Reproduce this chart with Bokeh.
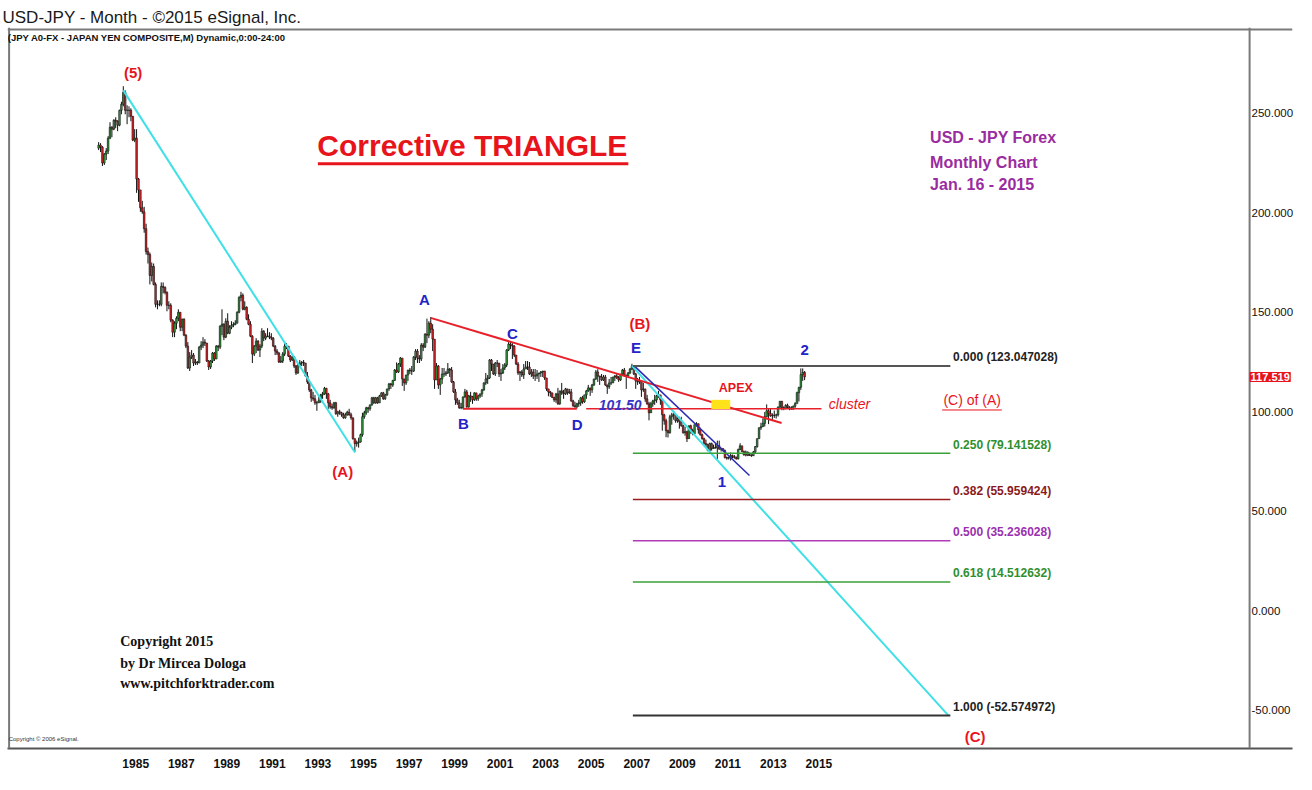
from bokeh.plotting import figure
from bokeh.models import Label, FixedTicker, Range1d, PrintfTickFormatter, ColumnDataSource, Span
from bokeh.embed import file_html
from bokeh.resources import INLINE

# ---------------- data (monthly USD-JPY, Jan 1984 .. Jan 2015) ----------------
first_year = 1984
first_open = 232.5
closes = [
    234.0, 233.0, 225.0, 229.5, 231.0, 237.5, 243.0, 242.0, 246.5, 246.0, 244.0, 251.5,  # 1984
    254.5, 260.5, 251.5, 251.5, 251.5, 248.5, 236.5, 237.5, 217.0, 211.5, 202.5, 200.5,  # 1985
    192.0, 180.5, 179.0, 168.5, 173.0, 164.0, 154.0, 154.0, 154.0, 163.0, 162.5, 160.0,  # 1986
    153.5, 153.5, 146.0, 140.0, 144.5, 147.0, 150.0, 142.5, 146.5, 138.5, 133.0, 122.0,  # 1987
    127.5, 128.5, 124.5, 125.0, 124.5, 132.5, 133.5, 135.0, 134.5, 125.5, 122.5, 125.5,  # 1988
    129.5, 126.5, 133.0, 132.5, 143.0, 144.0, 137.5, 145.5, 139.5, 142.5, 143.5, 143.8,  # 1989
    144.5, 150.0, 157.5, 158.5, 151.5, 152.5, 146.5, 144.0, 138.0, 129.0, 133.0, 135.5,  # 1990
    131.0, 133.0, 140.5, 137.0, 138.0, 138.0, 137.5, 137.0, 133.0, 130.5, 129.5, 125.0,  # 1991
    125.5, 129.0, 133.0, 133.0, 128.0, 126.0, 127.5, 123.0, 119.5, 123.5, 124.5, 124.8,  # 1992
    124.5, 118.0, 115.0, 111.0, 107.0, 106.5, 104.5, 104.5, 105.5, 108.5, 109.0, 111.8,  # 1993
    109.0, 104.5, 102.5, 102.0, 104.5, 99.0, 100.0, 99.5, 98.5, 97.0, 98.5, 99.8,        # 1994
    98.5, 97.0, 86.5, 84.0, 84.5, 84.8, 88.5, 97.5, 99.5, 102.0, 101.5, 103.5,           # 1995
    107.0, 104.5, 107.0, 104.5, 108.0, 109.5, 106.5, 108.5, 111.5, 114.0, 113.5, 115.8,  # 1996
    121.0, 120.0, 124.0, 127.0, 116.5, 114.5, 118.5, 121.0, 120.5, 120.5, 127.5, 130.5,  # 1997
    127.0, 126.5, 133.5, 132.5, 139.0, 138.5, 144.5, 141.5, 136.5, 116.0, 123.0, 113.5,  # 1998
    116.5, 119.0, 119.0, 119.5, 121.5, 121.0, 115.0, 110.0, 106.0, 104.5, 102.0, 102.2,  # 1999
    107.5, 110.0, 102.5, 108.0, 107.5, 106.0, 109.5, 106.5, 108.0, 109.0, 111.0, 114.5,  # 2000
    116.5, 117.0, 126.0, 124.0, 119.0, 124.5, 124.5, 119.0, 119.5, 122.0, 123.5, 131.0,  # 2001
    134.0, 133.5, 133.0, 128.5, 124.0, 119.5, 120.0, 118.5, 121.5, 122.5, 122.5, 119.0,  # 2002
    120.0, 118.0, 118.0, 119.0, 119.5, 120.0, 120.5, 117.0, 111.5, 110.0, 109.5, 107.2,  # 2003
    106.0, 109.0, 104.0, 110.5, 109.5, 109.0, 111.5, 109.5, 110.0, 105.5, 103.0, 102.5,  # 2004
    104.0, 104.5, 107.0, 105.0, 108.5, 110.5, 112.0, 111.0, 113.5, 116.5, 120.0, 118.0,  # 2005
    117.5, 116.0, 117.5, 113.5, 112.5, 114.5, 114.5, 117.5, 118.0, 117.0, 116.0, 119.0,  # 2006
    121.0, 118.5, 118.0, 119.5, 121.5, 123.0, 119.0, 115.5, 115.0, 115.5, 111.0, 111.5,  # 2007
    106.5, 104.0, 99.5, 104.0, 105.5, 106.0, 108.0, 108.5, 106.0, 98.5, 95.5, 90.5,      # 2008
    89.5, 97.5, 98.5, 98.5, 95.5, 96.5, 95.0, 93.0, 89.5, 90.0, 86.5, 93.0,              # 2009
    90.5, 89.0, 93.5, 94.0, 91.0, 88.5, 86.5, 84.0, 83.5, 80.5, 84.0, 81.5,              # 2010
    82.0, 81.8, 83.0, 81.2, 81.5, 80.5, 77.0, 76.7, 77.0, 78.0, 77.5, 77.0,              # 2011
    76.3, 81.0, 82.9, 80.0, 78.3, 79.8, 78.0, 78.4, 77.9, 79.8, 82.5, 86.5,              # 2012
    92.0, 92.5, 94.2, 97.5, 100.5, 99.2, 97.9, 98.2, 98.3, 98.4, 102.4, 105.3,           # 2013
    102.0, 101.8, 103.2, 102.3, 101.8, 101.3, 102.8, 104.1, 109.6, 112.3, 118.7, 119.8,  # 2014
    117.519,                                                                             # 2015
]
highs = [
    235.5, 235.0, 233.5, 230.0, 232.5, 238.5, 245.5, 243.5, 247.0, 248.0, 246.5, 251.8,
    255.8, 263.6, 261.5, 254.0, 253.5, 252.5, 248.5, 242.0, 242.0, 217.5, 211.0, 206.0,
    203.0, 194.5, 182.5, 180.0, 175.0, 174.5, 165.0, 156.0, 156.0, 165.0, 165.0, 163.0,
    160.5, 155.5, 154.5, 146.5, 145.5, 148.0, 151.5, 150.0, 146.8, 147.0, 139.0, 135.0,
    130.0, 131.0, 129.5, 126.5, 125.5, 133.0, 135.5, 137.5, 136.5, 134.5, 126.0, 126.0,
    130.0, 130.0, 133.5, 133.5, 143.5, 151.5, 144.5, 147.0, 149.5, 143.5, 145.5, 145.0,
    146.0, 150.5, 158.0, 160.3, 159.5, 155.5, 153.0, 149.0, 145.5, 138.5, 133.5, 137.0,
    136.0, 134.0, 142.0, 141.0, 139.5, 142.0, 140.0, 139.5, 137.5, 133.5, 131.5, 130.0,
    128.0, 130.0, 134.5, 134.5, 133.0, 128.5, 128.0, 128.0, 123.5, 124.0, 126.0, 125.5,
    126.0, 124.5, 120.0, 116.0, 111.5, 110.0, 108.5, 105.5, 107.5, 109.0, 110.0, 112.5,
    112.0, 109.5, 106.0, 104.0, 105.0, 105.0, 100.5, 101.0, 100.0, 99.5, 99.5, 100.5,
    101.5, 99.5, 97.0, 86.5, 85.5, 87.0, 89.0, 99.5, 100.5, 102.5, 102.5, 103.5,
    107.5, 107.5, 107.5, 107.5, 108.5, 109.8, 110.0, 109.0, 111.5, 114.5, 114.5, 116.0,
    121.5, 124.8, 124.5, 127.5, 126.5, 116.5, 118.5, 121.0, 122.0, 123.0, 128.0, 131.5,
    131.5, 128.5, 134.5, 134.5, 139.5, 146.8, 145.5, 147.6, 144.0, 136.5, 124.5, 123.5,
    117.0, 122.0, 122.0, 120.5, 124.5, 122.0, 122.5, 115.5, 111.5, 107.0, 106.0, 104.5,
    107.5, 111.5, 111.0, 108.5, 110.0, 108.0, 109.8, 109.5, 108.5, 109.0, 111.5, 114.8,
    119.5, 118.5, 126.5, 126.5, 124.0, 125.0, 126.0, 124.5, 121.5, 124.0, 124.5, 131.5,
    135.0, 135.2, 134.5, 133.5, 128.5, 125.0, 120.5, 121.0, 124.0, 125.5, 125.5, 125.0,
    121.5, 121.5, 121.5, 121.0, 119.5, 120.5, 120.5, 120.0, 117.0, 111.5, 110.5, 109.5,
    107.5, 109.5, 112.0, 110.5, 114.5, 111.0, 112.0, 111.5, 111.5, 111.5, 106.0, 105.0,
    104.5, 106.0, 107.5, 108.0, 108.5, 111.0, 113.5, 112.0, 114.0, 116.5, 121.0, 121.4,
    118.0, 119.0, 118.5, 118.5, 113.5, 116.5, 117.5, 117.5, 118.5, 119.5, 118.0, 119.0,
    121.5, 122.0, 118.5, 120.0, 122.0, 124.1, 123.5, 119.5, 117.0, 117.5, 115.5, 114.5,
    109.5, 108.5, 105.0, 105.0, 106.0, 108.5, 108.5, 110.5, 108.0, 106.5, 99.0, 96.5,
    91.0, 98.5, 99.5, 100.5, 99.0, 98.0, 97.5, 97.5, 93.5, 92.5, 90.5, 93.0,
    93.5, 91.5, 93.5, 94.8, 94.0, 92.0, 89.0, 87.0, 86.0, 84.0, 84.5, 84.5,
    83.5, 84.0, 85.5, 85.5, 82.0, 81.5, 81.0, 77.5, 77.5, 79.5, 78.5, 78.2,
    77.5, 81.5, 84.2, 82.5, 80.5, 80.5, 80.0, 79.5, 78.5, 80.3, 82.8, 86.5,
    92.0, 94.5, 96.7, 99.9, 103.7, 101.4, 101.5, 99.2, 100.6, 99.0, 102.6, 105.4,
    105.4, 102.7, 103.8, 104.1, 102.8, 102.8, 103.1, 104.8, 110.1, 112.5, 121.8, 121.8,
    120.5,
]
lows = [
    231.5, 230.5, 223.5, 224.0, 226.5, 229.5, 237.0, 238.0, 241.5, 242.5, 241.0, 243.5,
    249.5, 253.5, 249.5, 244.5, 248.0, 246.0, 236.0, 235.5, 210.0, 205.5, 200.5, 199.5,
    190.0, 179.0, 174.5, 164.0, 165.5, 163.5, 152.5, 151.5, 153.0, 153.0, 159.5, 159.0,
    150.5, 151.5, 145.0, 137.5, 137.5, 141.5, 145.5, 140.5, 140.5, 138.0, 132.0, 121.5,
    120.5, 126.5, 123.0, 123.5, 123.5, 124.5, 131.0, 132.0, 133.0, 125.0, 121.0, 121.5,
    124.5, 125.5, 127.0, 130.5, 131.5, 138.5, 136.0, 137.0, 139.0, 139.0, 141.5, 142.5,
    143.5, 144.5, 149.5, 155.5, 151.0, 151.0, 146.0, 143.5, 137.5, 124.5, 128.0, 129.5,
    130.5, 127.5, 132.0, 135.5, 136.0, 137.5, 136.5, 136.0, 132.5, 128.5, 128.5, 124.5,
    124.5, 124.5, 128.0, 131.5, 127.5, 125.0, 125.5, 122.0, 118.5, 119.0, 122.5, 123.0,
    123.0, 117.5, 114.0, 110.0, 105.0, 105.5, 103.5, 100.5, 104.5, 104.5, 106.5, 108.5,
    106.5, 101.5, 101.5, 101.0, 101.5, 98.5, 97.5, 98.5, 97.5, 96.5, 96.5, 98.0,
    98.0, 96.0, 86.0, 79.8, 82.5, 82.0, 84.5, 87.5, 96.5, 98.5, 99.5, 100.5,
    103.0, 104.0, 104.0, 104.0, 104.5, 107.5, 106.0, 106.0, 108.0, 110.5, 111.5, 112.5,
    115.5, 119.5, 119.5, 122.5, 113.0, 110.5, 113.5, 115.5, 119.0, 118.5, 120.0, 126.0,
    124.5, 124.5, 125.5, 130.5, 132.0, 134.5, 137.0, 139.5, 130.5, 111.5, 116.0, 111.5,
    108.5, 114.0, 117.5, 118.0, 119.0, 117.5, 114.5, 109.5, 103.5, 103.5, 101.5, 101.3,
    101.3, 107.0, 102.0, 102.0, 105.0, 104.0, 105.5, 105.5, 105.5, 107.0, 107.5, 110.5,
    113.5, 114.0, 116.5, 120.5, 118.5, 118.0, 122.5, 117.5, 115.5, 119.0, 121.0, 122.5,
    130.5, 131.5, 126.5, 127.5, 123.5, 118.5, 115.5, 117.5, 116.5, 121.5, 121.0, 118.5,
    117.5, 116.5, 115.5, 116.5, 115.0, 117.5, 117.5, 116.0, 110.5, 107.8, 107.5, 107.0,
    105.0, 104.5, 103.5, 103.5, 108.5, 106.5, 108.5, 108.5, 109.0, 105.0, 102.5, 102.0,
    101.7, 102.5, 103.0, 104.0, 104.5, 106.5, 110.0, 108.0, 109.5, 113.0, 116.0, 115.0,
    113.5, 115.5, 115.5, 113.0, 109.0, 111.5, 113.5, 114.5, 115.5, 116.5, 115.0, 115.5,
    118.5, 117.5, 111.5, 117.5, 119.0, 121.0, 118.5, 111.5, 113.5, 114.0, 107.5, 110.0,
    105.0, 103.5, 95.7, 99.5, 102.5, 103.5, 104.5, 107.0, 103.5, 90.5, 93.5, 87.2,
    87.1, 89.0, 93.5, 96.0, 94.5, 94.5, 91.5, 92.5, 89.0, 88.0, 84.8, 86.5,
    89.0, 88.2, 88.5, 92.5, 89.0, 88.0, 86.0, 83.5, 82.0, 80.2, 80.5, 80.5,
    81.5, 81.5, 76.3, 81.0, 80.0, 80.0, 76.5, 75.9, 76.0, 75.5, 76.6, 76.5,
    76.0, 76.1, 80.8, 79.8, 78.0, 77.6, 77.9, 78.0, 77.4, 77.8, 79.2, 82.0,
    86.5, 90.9, 92.6, 92.6, 97.3, 93.8, 97.5, 95.8, 96.9, 96.6, 97.6, 101.6,
    100.8, 100.8, 101.2, 101.4, 100.8, 101.1, 101.1, 102.0, 104.6, 105.2, 111.0, 115.5,
    115.9,
]

# year tick labels of the time axis
year_labels = [1985, 1987, 1989, 1991, 1993, 1995, 1997, 1999, 2001, 2003, 2005, 2007, 2009, 2011, 2013, 2015]
price_ticks = [-50, 0, 50, 100, 150, 200, 250]

# Elliott-wave pivots (decimal year, price)
pivot_names = ["(5)", "(A)", "A", "B", "C", "D", "E", "1", "2"]
pivot_t = [1985.125, 1995.30, 1998.62, 2000.04, 2002.12, 2005.04, 2007.46, 2011.83, 2015.04]
pivot_v = [261.5, 79.5, 147.2, 101.5, 135.2, 101.5, 123.047, 75.5, 121.8]

# Fibonacci projection levels
fib_ratio = ["0.000", "0.250", "0.382", "0.500", "0.618", "1.000"]
fib_value = [123.047028, 79.141528, 55.959424, 35.236028, 14.512632, -52.574972]
fib_start_t = 2007.50
fib_end_t = 2021.44

cluster_level = 101.50
apex_t, apex_v = 2011.36, 103.7
triangle_end_t = 2014.03
trend_end_t, trend_end_v = 2012.62, 68.0
last_price = 117.519

# ---------------- derived candle table ----------------
n = len(closes)
t = [first_year + i / 12.0 + 1.0 / 24.0 for i in range(n)]
opens = [first_open] + closes[:-1]
up = [c >= o for o, c in zip(opens, closes)]
GREEN, RED = "#35a040", "#e0262a"
src = ColumnDataSource(dict(
    t=t, o=opens, c=closes, h=highs, l=lows,
    top=[max(o, c) for o, c in zip(opens, closes)],
    bot=[min(o, c) for o, c in zip(opens, closes)],
    col=[GREEN if u else RED for u in up],
))

SANS = "Liberation Sans"
SERIF = "Liberation Serif"

W, H = 1296, 774
FRAME_L, FRAME_T, FRAME_B = 7, 27, 26
T0, T_AXIS = 1980.04, 2034.58        # time at the left frame edge and at the price-axis line
AXIS_PX = 1245                       # price-axis line, px from the frame's left edge
ppy = AXIS_PX / (T_AXIS - T0)
frame_w = W - FRAME_L - 1
T1 = T0 + frame_w / ppy
Y0, Y1 = -69.2, 293.1

p = figure(width=W, height=H, output_backend="svg", toolbar_location=None,
           x_range=Range1d(T0, T1), y_range=Range1d(Y0, Y1),
           y_axis_location="right", min_border_left=FRAME_L, min_border_right=0,
           min_border_bottom=FRAME_B, min_border_top=FRAME_T,
           title="USD-JPY - Month - \u00a92015 eSignal, Inc.")
p.title.text_font = SANS
p.title.text_font_size = "17px"
p.title.text_font_style = "normal"
p.title.text_color = "#1a1a1a"
p.title.standoff = 2
p.title.offset = -5

p.background_fill_color = "white"
p.border_fill_color = "white"
p.outline_line_color = "white"
p.outline_line_width = 1
p.grid.visible = False

# price axis (right); its labels sit just right of the axis line inside the chart box
ya = p.yaxis[0]
ya.ticker = FixedTicker(ticks=price_ticks)
ya.formatter = PrintfTickFormatter(format="%.3f")
ya.major_tick_line_color = None
ya.major_tick_out = 0
ya.major_tick_in = 0
ya.minor_tick_line_color = None
ya.minor_tick_out = 0
ya.minor_tick_in = 0
ya.axis_line_color = None
ya.major_label_standoff = -41
ya.major_label_text_font = SANS
ya.major_label_text_font_size = "11.5px"
ya.major_label_text_color = "#111111"

# time axis (bottom)
xa = p.xaxis[0]
tick_pos = [round(y + 0.67, 2) for y in year_labels]
xa.ticker = FixedTicker(ticks=tick_pos)
xa.major_label_overrides = {tp: str(y) for tp, y in zip(tick_pos, year_labels)}
xa.major_tick_line_color = None
xa.major_tick_out = 0
xa.minor_tick_line_color = None
xa.axis_line_color = "#555555"
xa.axis_line_width = 2
xa.major_label_standoff = 10
xa.major_label_text_font = SANS
xa.major_label_text_font_style = "bold"
xa.major_label_text_font_size = "12px"
xa.major_label_text_color = "#111111"

# chart box lines
BOX = "#7a7a7a"
p.add_layout(Span(location=Y1 - 1.0, dimension="width", line_color=BOX, line_width=2))
p.add_layout(Span(location=T0 + 0.07, dimension="height", line_color=BOX, line_width=2))
p.add_layout(Span(location=T_AXIS, dimension="height", line_color=BOX, line_width=2))

# ---------------- candles ----------------
p.segment(x0="t", y0="l", x1="t", y1="h", source=src, line_color="#111111", line_width=1)
p.vbar(x="t", bottom="bot", top="top", width=0.85 / 12, source=src,
       fill_color="col", line_color="#111111", line_width=0.6)

piv = dict(zip(pivot_names, zip(pivot_t, pivot_v)))

# cyan lines: (5)->(A) and E->(C)
CYAN = "#3fe0e6"
p.line([piv["(5)"][0], piv["(A)"][0]], [piv["(5)"][1], piv["(A)"][1]], line_color=CYAN, line_width=2)
p.line([piv["E"][0], 2021.35], [piv["E"][1], fib_value[-1]], line_color=CYAN, line_width=2)

# triangle upper line A -> C extended
slope = (piv["C"][1] - piv["A"][1]) / (piv["C"][0] - piv["A"][0])
p.line([piv["A"][0], triangle_end_t],
       [piv["A"][1], piv["A"][1] + slope * (triangle_end_t - piv["A"][0])],
       line_color="#e8202a", line_width=2)
# triangle lower line B -> D and cluster line
p.line([piv["B"][0], piv["D"][0]], [cluster_level, cluster_level], line_color="#e8202a", line_width=2)
p.line([2005.45, 2015.78], [cluster_level, cluster_level], line_color="#e8202a", line_width=1.5)

# blue trend line from E
p.line([piv["E"][0] + 0.1, trend_end_t], [piv["E"][1], trend_end_v], line_color="#2a2ab4", line_width=1.5)

# fib levels
fib_line_cols = ["#555555", "#3aa03a", "#9a1c1c", "#b03ab8", "#3aa03a", "#333333"]
fib_text_cols = ["#222222", "#2f8f2f", "#8a1a1a", "#9a30b0", "#2f8f2f", "#222222"]
for r, v, lc, tc in zip(fib_ratio, fib_value, fib_line_cols, fib_text_cols):
    p.line([fib_start_t, fib_end_t], [v, v], line_color=lc, line_width=2 if r in ("0.000", "1.000") else 1.5)
    p.add_layout(Label(x=fib_end_t + 0.12, y=v + 0.8, text=f"{r} ({v:.6f})",
                       text_font=SANS, text_font_style="bold", text_font_size="12px",
                       text_color=tc, text_align="left", text_baseline="bottom"))

# apex marker
p.rect(x=[apex_t], y=[apex_v], width=0.83, height=4.6, fill_color="#ffe21a", line_color=None)


def lab(x, y, text, color, size, font=SANS, style="bold", align="center", baseline="middle"):
    p.add_layout(Label(x=x, y=y, text=text, text_color=color, text_font=font,
                       text_font_size=size, text_font_style=style,
                       text_align=align, text_baseline=baseline))


BLUE = "#2323c8"
REDT = "#e8141c"
offsets = {"(5)": (0.43, 9.0), "(A)": (-0.54, -9.5), "A": (-0.27, 9.2), "B": (0.02, -7.4),
           "C": (0.09, 4.1), "D": (0.01, -7.9), "E": (0.18, 9.3), "1": (-0.42, -11.0),
           "2": (0.0, 9.0)}
for name in pivot_names:
    dx, dy = offsets[name]
    col = REDT if name.startswith("(") else BLUE
    lab(piv[name][0] + dx, piv[name][1] + dy, name, col, "15px")
lab(piv["E"][0] + 0.35, piv["E"][1] + 21.4, "(B)", REDT, "15px")
lab(2022.53, -63.1, "(C)", REDT, "15px")

lab(2006.94, cluster_level + 1.7, "101.50", "#3535c8", "14px", style="bold italic")
lab(2012.02, 112.2, "APEX", REDT, "12.5px")
lab(2017.01, 103.7, "cluster", REDT, "14px", style="italic")
lab(2022.40, 105.7, "(C) of (A)", REDT, "14px", style="normal")
p.line([2021.08, 2023.70], [100.9, 100.9], line_color=REDT, line_width=1)

# big title
lab(2000.45, 233.8, "Corrective TRIANGLE", REDT, "30px")
p.line([1993.67, 2007.30], [224.6, 224.6], line_color=REDT, line_width=3)

# purple block
PURPLE = "#9a2ca0"
for yv, txt in zip([237.7, 225.4, 214.1], ["USD - JPY Forex", "Monthly Chart", "Jan. 16 - 2015"]):
    lab(2020.55, yv, txt, PURPLE, "16px", align="left", baseline="alphabetic")

# copyright block
for yv, txt in zip([-15.4, -26.5, -36.6], ["Copyright 2015", "by Dr Mircea Dologa", "www.pitchforktrader.com"]):
    lab(1984.99, yv, txt, "#111111", "14px", font=SERIF, align="left", baseline="alphabetic")
lab(1980.09, -64.5, "Copyright \u00a9 2006 eSignal.", "#333333", "6px", style="normal", align="left")

# header sub-line
lab(1980.05, 288.3, "(JPY A0-FX - JAPAN YEN COMPOSITE,M) Dynamic,0:00-24:00", "#111111", "9.5px",
    align="left")

# last price tag on the price axis
p.add_layout(Label(x=T_AXIS, y=last_price, text=f"{last_price:.3f}", text_color="white",
                   text_font=SANS, text_font_style="bold", text_font_size="11px",
                   text_align="left", text_baseline="middle", level="overlay",
                   background_fill_color="#e8141c", padding=1))

open("out.html", "w").write(file_html(p, INLINE))
